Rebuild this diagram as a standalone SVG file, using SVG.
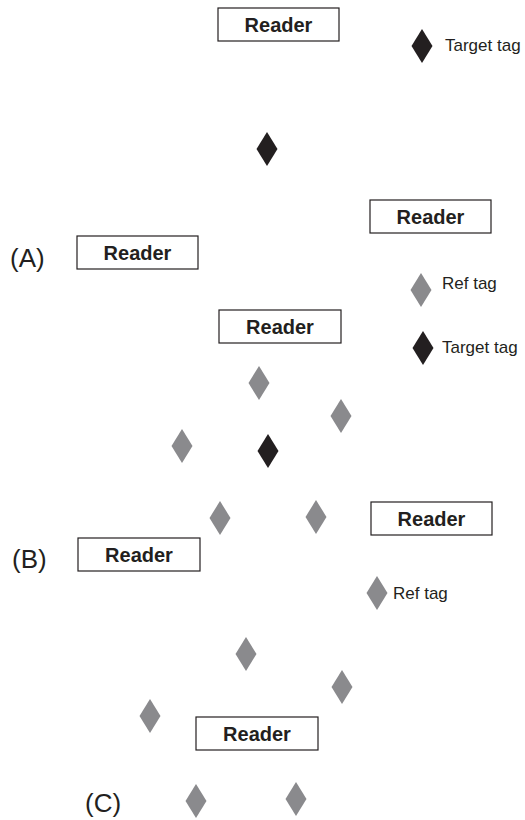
<svg xmlns="http://www.w3.org/2000/svg" xmlns:xlink="http://www.w3.org/1999/xlink" width="525" height="820" viewBox="0 0 525 820">
<style>
.box{fill:#fff;stroke:#231f20;stroke-width:1.2}
.rt{font-family:"Liberation Sans",Arial,sans-serif;font-weight:bold;font-size:20px;fill:#231f20;text-anchor:middle}
.lbl{font-family:"Liberation Sans",Arial,sans-serif;font-size:17px;fill:#231f20}
.pl{font-family:"Liberation Sans",Arial,sans-serif;font-size:26px;fill:#231f20}
.blk{fill:#231f20}
.gry{fill:#8a8a8d}
</style>
<defs>
<path id="dm" d="M0,-17 L10.5,0 L0,17 L-10.5,0 Z"/>
</defs>
<rect width="525" height="820" fill="#fff"/>
<g id="readers">
<g id="reader1"><rect class="box" x="218" y="8" width="121" height="33"/><text class="rt" x="278.5" y="32">Reader</text></g>
<g id="reader2"><rect class="box" x="370" y="200" width="121" height="33"/><text class="rt" x="430.5" y="224">Reader</text></g>
<g id="reader3"><rect class="box" x="77" y="236" width="121" height="33"/><text class="rt" x="137.5" y="260">Reader</text></g>
<g id="reader4"><rect class="box" x="219" y="310" width="122" height="33"/><text class="rt" x="280" y="334">Reader</text></g>
<g id="reader5"><rect class="box" x="371" y="502" width="121" height="33"/><text class="rt" x="431.5" y="526">Reader</text></g>
<g id="reader6"><rect class="box" x="78" y="538" width="122" height="33"/><text class="rt" x="139" y="562">Reader</text></g>
<g id="reader7"><rect class="box" x="196" y="717" width="122" height="33"/><text class="rt" x="257" y="741">Reader</text></g>
</g>
<g id="target-tags">
<use href="#dm" class="blk" x="422" y="46"/>
<use href="#dm" class="blk" x="267" y="149"/>
<use href="#dm" class="blk" x="423" y="348"/>
<use href="#dm" class="blk" x="268" y="451"/>
</g>
<g id="ref-tags">
<use href="#dm" class="gry" x="421" y="290"/>
<use href="#dm" class="gry" x="259" y="383"/>
<use href="#dm" class="gry" x="341" y="416"/>
<use href="#dm" class="gry" x="182" y="446"/>
<use href="#dm" class="gry" x="220" y="518"/>
<use href="#dm" class="gry" x="316" y="517"/>
<use href="#dm" class="gry" x="377" y="593"/>
<use href="#dm" class="gry" x="246" y="654"/>
<use href="#dm" class="gry" x="342" y="687"/>
<use href="#dm" class="gry" x="150" y="716"/>
<use href="#dm" class="gry" x="196" y="801"/>
<use href="#dm" class="gry" x="296" y="799"/>
</g>
<g id="legend">
<text class="lbl" x="445" y="51">Target tag</text>
<text class="lbl" x="442" y="289">Ref tag</text>
<text class="lbl" x="442" y="353">Target tag</text>
<text class="lbl" x="393" y="599">Ref tag</text>
</g>
<g id="panel-labels">
<text class="pl" x="10" y="267">(A)</text>
<text class="pl" x="12" y="568">(B)</text>
<text class="pl" x="85" y="812">(C)</text>
</g>
</svg>
